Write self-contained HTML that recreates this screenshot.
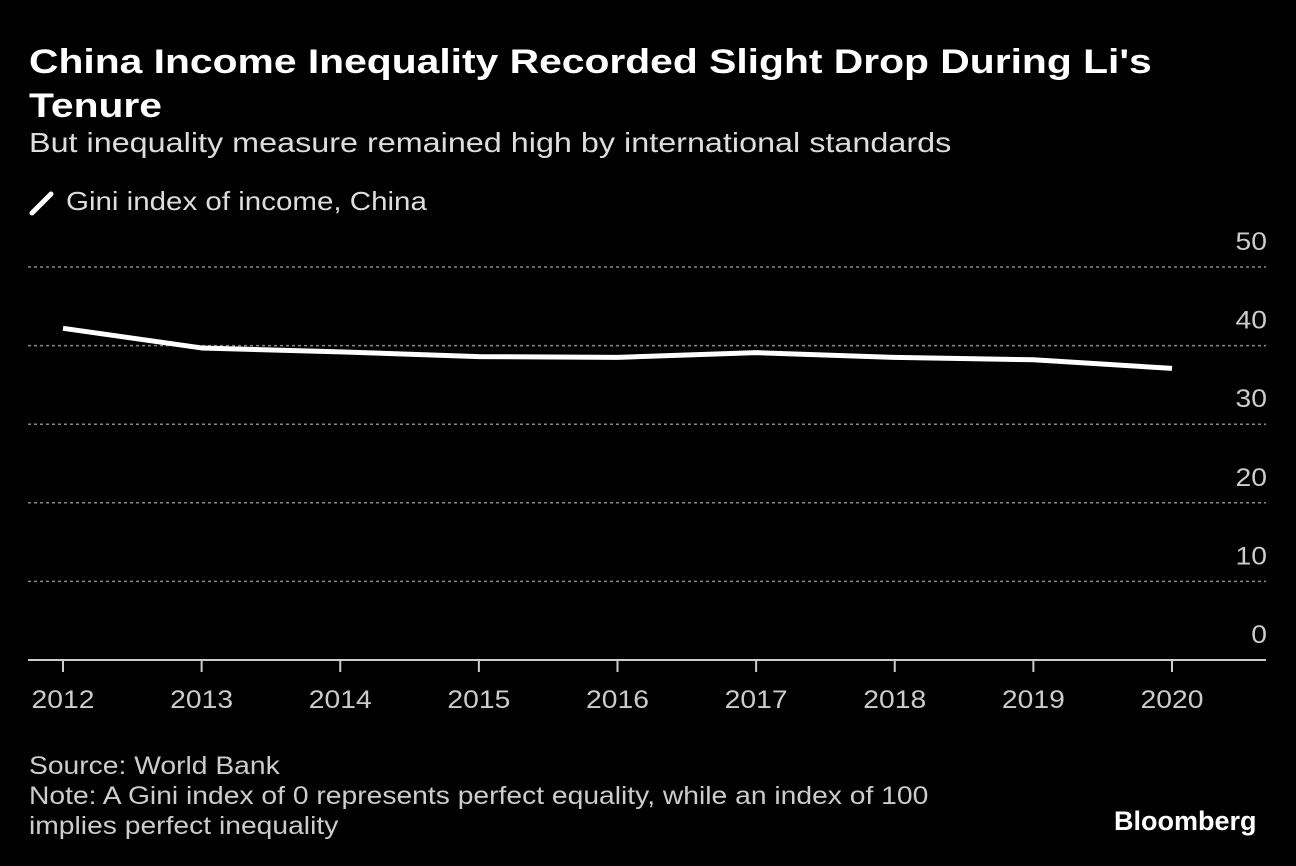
<!DOCTYPE html>
<html><head><meta charset="utf-8"><style>
body{margin:0;background:#000;width:1296px;height:866px;overflow:hidden;font-family:"Liberation Sans",sans-serif;color:#fff}
.t{position:absolute;white-space:nowrap;transform-origin:0 0}
</style></head><body>
<div class="t" style="left:29px;top:40px;font-size:34px;font-weight:bold;line-height:44px;transform:scaleX(1.2)">China Income Inequality Recorded Slight Drop During Li's<br>Tenure</div>
<div class="t" style="left:29px;top:127px;font-size:28px;color:#ddd;transform:scaleX(1.155)">But inequality measure remained high by international standards</div>
<svg width="30" height="30" style="position:absolute;left:29px;top:187px"><line x1="3" y1="26" x2="22" y2="7" stroke="#fff" stroke-width="5" stroke-linecap="round"/></svg>
<div class="t" style="left:66px;top:186px;font-size:26px;color:#ddd;transform:scaleX(1.135)">Gini index of income, China</div>
<svg id="c" width="1296" height="866" style="position:absolute;left:0;top:0"></svg>
<div class="t" style="left:29px;top:751px;font-size:25px;color:#ccc;line-height:30px;transform:scaleX(1.13)">Source: World Bank<br>Note: A Gini index of 0 represents perfect equality, while an index of 100<br>implies perfect inequality</div>
<div class="t" style="left:1114px;top:806px;font-size:27px;font-weight:bold">Bloomberg</div>
<script>
const years=["2012","2013","2014","2015","2016","2017","2018","2019","2020"];
const gini=[42.2,39.7,39.2,38.6,38.5,39.1,38.5,38.2,37.1];
const yTicks=[0,10,20,30,40,50];
const svg=document.getElementById('c');const NS='http://www.w3.org/2000/svg';
const x=i=>63+i*(1172-63)/(years.length-1);
const y=v=>660-v*(660-267)/50;
function mk(t,a){const e=document.createElementNS(NS,t);for(const k in a)e.setAttribute(k,a[k]);svg.appendChild(e);return e;}
function widen(t){const w=t.getComputedTextLength();t.setAttribute('textLength',w*1.13);t.setAttribute('lengthAdjust','spacingAndGlyphs');}
yTicks.forEach(v=>{
 if(v>0){const g=mk('line',{x1:28,x2:1266,y1:y(v),y2:y(v),stroke:'#888','stroke-width':1.5,'stroke-dasharray':'3,3'});
 
 }
 const t=mk('text',{x:1267,y:y(v)-17,fill:'#ccc','font-size':25,'text-anchor':'end','font-family':'Liberation Sans'});t.textContent=v;widen(t);
 
 
});
const ax=mk('line',{x1:28,x2:1266,y1:660,y2:660,stroke:'#ccc','stroke-width':2});


years.forEach((yr,i)=>{
 const tk=mk('line',{x1:x(i),x2:x(i),y1:660,y2:672,stroke:'#ccc','stroke-width':2});
 
 
 const t=mk('text',{x:x(i),y:708,fill:'#ccc','font-size':25,'text-anchor':'middle','font-family':'Liberation Sans'});t.textContent=yr;widen(t);
 
 
});
const p=mk('polyline',{points:gini.map((v,i)=>x(i)+','+y(v)).join(' '),fill:'none',stroke:'#fff','stroke-width':5,'stroke-linejoin':'round'});


</script>
</body></html>
